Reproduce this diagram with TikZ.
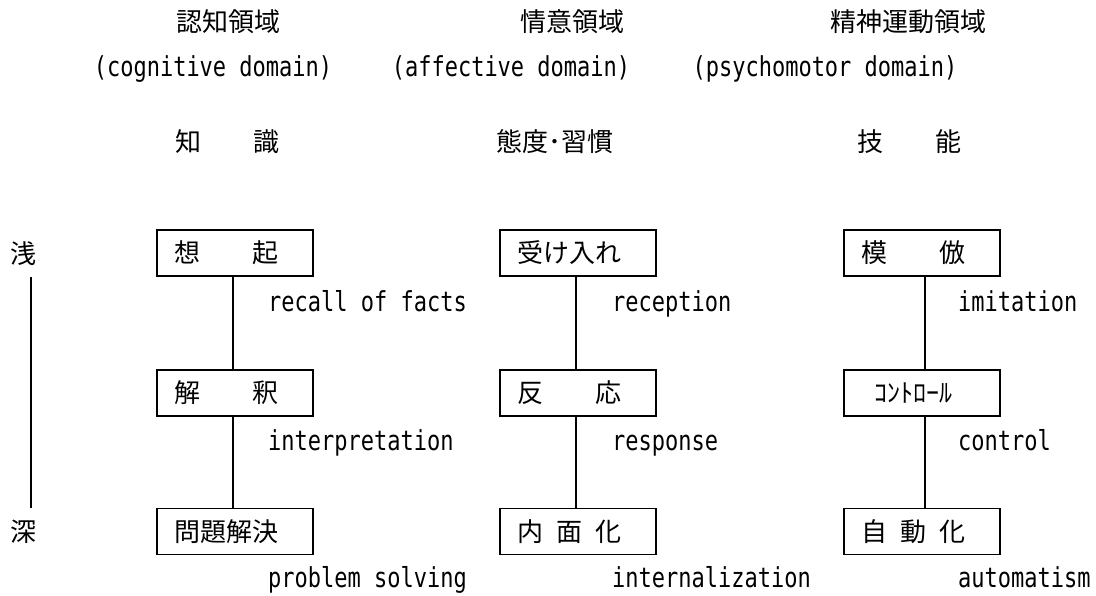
\documentclass[tikz,border=0pt]{standalone}
\usepackage{fontspec}
\newfontfamily\jp{Noto Sans CJK JP}
\newfontfamily\lat[FakeStretch=0.8]{DejaVu Sans Mono}
\begin{document}
\begin{tikzpicture}[x=1pt,y=-1pt,
  jtxt/.style={font=\jp\fontsize{26}{30}\selectfont, inner sep=0pt},
  etxt/.style={font=\lat\fontsize{27.5}{30}\selectfont, inner sep=0pt},
  lbl/.style={etxt, anchor=base west},
  levelbox/.style={draw, line width=1.2pt, minimum height=46pt, text width=122pt,
    inner xsep=17pt, inner ysep=0pt, align=left, font=\jp\fontsize{26}{30}\selectfont},
  conn/.style={line width=1.2pt}]
\useasboundingbox (0,0) rectangle (1096,596);

% headings
\node[jtxt] (h1) at (228,22) {認知領域};
\node[jtxt] (h2) at (572,22) {情意領域};
\node[jtxt] (h3) at (908,22) {精神運動領域};
\node[etxt, anchor=base] (e1) at (213,77) {(cognitive domain)};
\node[etxt, anchor=base] (e2) at (511,77) {(affective domain)};
\node[etxt, anchor=base] (e3) at (825,77) {(psychomotor domain)};
\node[jtxt] (k1) at (227,142) {知　　識};
\node[jtxt] (k2) at (555,142) {態度･習慣};
\node[jtxt] (k3) at (909,142) {技　　能};

% depth axis
\node[jtxt] (shallow) at (23,254) {浅};
\node[jtxt] (deep) at (23,532) {深};
\coordinate (axtop) at (31,277);
\coordinate (axbot) at (31,508);
\draw[conn] (axtop) -- (axbot);

% column 1
\node[levelbox] (a1) at (235,253) {想　　起};
\node[levelbox] (a2) at (235,393) {解　　釈};
\node[levelbox] (a3) at (235,531.5) {問題解決};
\draw[conn] ([xshift=-2pt]a1.south) -- ([xshift=-2pt]a2.north);
\draw[conn] ([xshift=-2pt]a2.south) -- ([xshift=-2pt]a3.north);
\node[lbl] (la1) at (268,312) {recall of facts};
\node[lbl] (la2) at (268,450) {interpretation};
\node[lbl] (la3) at (268,587) {problem solving};

% column 2
\node[levelbox] (b1) at (578,253) {受け入れ};
\node[levelbox] (b2) at (578,393) {反　　応};
\node[levelbox] (b3) at (578,531.5) {内\hspace{13pt}面\hspace{13pt}化};
\draw[conn] ([xshift=-2pt]b1.south) -- ([xshift=-2pt]b2.north);
\draw[conn] ([xshift=-2pt]b2.south) -- ([xshift=-2pt]b3.north);
\node[lbl] (lb1) at (612,312) {reception};
\node[lbl] (lb2) at (612,450) {response};
\node[lbl] (lb3) at (612,587) {internalization};

% column 3
\node[levelbox] (c1) at (922,253) {模　　倣};
\node[levelbox] (c2) at (922,393) {\hspace*{13pt}ｺﾝﾄﾛｰﾙ};
\node[levelbox] (c3) at (922,531.5) {自\hspace{13pt}動\hspace{13pt}化};
\draw[conn] ([xshift=3pt]c1.south) -- ([xshift=3pt]c2.north);
\draw[conn] ([xshift=3pt]c2.south) -- ([xshift=3pt]c3.north);
\node[lbl] (lc1) at (958,312) {imitation};
\node[lbl] (lc2) at (958,450) {control};
\node[lbl] (lc3) at (958,587) {automatism};
\end{tikzpicture}
\end{document}
